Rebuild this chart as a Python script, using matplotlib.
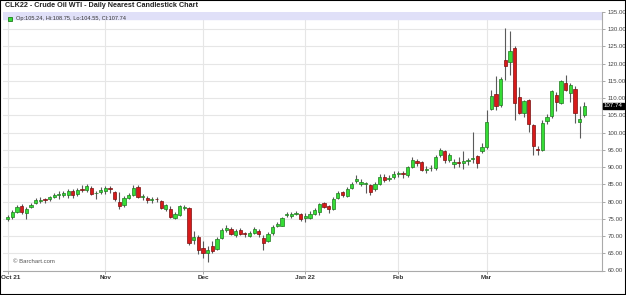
import matplotlib.pyplot as plt
import matplotlib.patches as mpatches
import numpy as np
import pandas as pd

# daily OHLC, CLK22 nearest, 1 Oct 2021 - 30 Mar 2022
holidays = ['2021-11-25', '2021-12-24', '2022-01-17', '2022-02-21']
dates = pd.bdate_range('2021-10-01', '2022-03-30', freq='C', holidays=holidays)

opens = [75.0, 75.6, 77.1, 78.7, 76.6, 78.5, 79.6, 80.3, 80.6, 80.6, 81.3, 81.9, 81.8, 82.0, 83.2, 82.1, 83.6, 83.4, 84.0, 82.4, 82.7,
         83.0, 83.8, 82.8, 79.9, 78.9, 80.9, 81.9, 84.2, 81.3, 81.0, 80.5, 80.7, 80.1, 77.9, 77.9, 75.1, 76.2, 78.2, 78.1, 68.8, 69.6,
         66.4, 65.1, 67.0, 66.3, 69.3, 71.8, 72.0, 70.2, 71.7, 70.8, 70.0, 70.9, 71.4, 69.5, 68.6, 70.8, 72.8, 73.0, 76.0, 75.8, 76.4, 76.4,
         75.3, 75.2, 76.5, 77.0, 79.6, 78.7, 77.9, 81.0, 82.7, 81.7, 83.8, 86.0, 85.1, 85.0, 84.8, 83.7, 85.1, 87.0, 86.6, 87.2,
         88.0, 88.2, 87.6, 90.0, 91.8, 91.5, 89.3, 89.6, 89.7, 93.6, 94.6, 92.0, 90.8, 91.5, 91.2, 91.9, 92.4, 93.1, 94.6,
         95.8, 107.0, 111.2, 108.0, 121.2, 120.6, 124.7, 110.2, 105.7, 109.4, 102.2, 95.3, 95.1, 103.4, 104.8, 110.9, 108.7, 114.4,
         111.5, 112.8, 103.1, 105.24]
highs = [76.2, 77.6, 79.0, 79.3, 78.4, 79.7, 81.1, 81.4, 81.0, 81.6, 82.4, 83.0, 83.0, 83.6, 83.7, 84.0, 84.9, 85.2, 84.6, 83.0, 84.1,
         84.6, 84.4, 83.2, 82.9, 81.5, 82.4, 84.8, 84.9, 82.3, 81.6, 81.3, 81.3, 80.5, 79.3, 78.6, 77.0, 78.9, 78.9, 78.3, 71.5, 70.4,
         68.7, 67.0, 68.5, 69.6, 72.4, 73.1, 72.7, 72.0, 72.4, 71.1, 71.4, 72.6, 71.9, 70.3, 71.3, 73.1, 74.0, 75.6, 76.9, 77.0, 77.2, 76.7,
         76.7, 77.2, 78.2, 79.6, 80.0, 79.0, 81.2, 83.0, 83.0, 84.3, 85.7, 87.6, 86.5, 85.8, 85.0, 85.6, 87.9, 88.1, 87.8, 88.9,
         88.8, 89.0, 90.4, 92.8, 92.4, 91.9, 90.3, 90.7, 93.4, 95.6, 95.0, 94.2, 92.4, 92.9, 94.6, 92.6, 100.2, 93.6, 97.1,
         106.5, 112.3, 116.4, 116.0, 130.5, 129.4, 125.0, 113.3, 109.6, 109.8, 102.6, 96.2, 103.6, 105.4, 112.4, 111.8, 115.4, 116.7,
         114.4, 113.4, 107.7, 108.75]
lows = [74.5, 74.8, 76.8, 76.5, 74.8, 78.0, 79.3, 79.7, 79.6, 80.2, 81.0, 80.8, 81.4, 81.0, 81.0, 81.6, 82.8, 82.9, 82.0, 80.6, 82.2,
        82.3, 82.5, 80.2, 77.9, 78.5, 80.6, 81.6, 80.9, 80.5, 79.5, 79.6, 79.8, 77.8, 77.3, 75.2, 74.9, 75.9, 77.6, 67.4, 67.8, 64.7,
        63.7, 62.4, 65.0, 66.0, 69.1, 71.1, 70.2, 69.8, 70.3, 69.6, 69.6, 70.6, 69.8, 65.9, 68.3, 70.4, 72.5, 72.8, 75.5, 75.3, 76.0, 74.3,
        74.2, 74.9, 76.1, 76.0, 78.0, 76.8, 77.6, 80.8, 81.3, 81.3, 83.6, 85.5, 84.6, 82.4, 82.0, 83.0, 84.9, 85.8, 85.9, 86.6,
        87.0, 86.9, 87.2, 89.6, 90.4, 88.8, 88.4, 88.8, 89.3, 92.8, 91.1, 91.6, 89.6, 89.9, 89.5, 90.6, 91.2, 89.8, 94.0,
        95.3, 106.5, 106.5, 107.5, 115.2, 116.7, 103.6, 105.3, 104.5, 100.2, 93.4, 93.6, 94.8, 102.5, 104.3, 106.4, 108.2, 112.0,
        108.8, 102.8, 98.3, 104.55]
closes = [75.6, 77.0, 78.4, 77.0, 77.9, 79.1, 80.5, 80.5, 80.5, 81.2, 82.0, 82.1, 82.6, 83.0, 82.0, 83.4, 83.5, 84.6, 82.3, 82.6, 83.5,
          84.0, 83.6, 80.6, 78.6, 80.9, 81.9, 84.0, 81.4, 81.5, 80.5, 80.7, 80.6, 78.2, 78.9, 75.6, 76.5, 78.6, 78.3, 67.9, 69.6, 65.9,
          65.0, 65.9, 65.7, 69.1, 71.7, 72.3, 70.6, 71.4, 70.6, 70.6, 70.8, 72.0, 70.5, 68.1, 70.7, 72.6, 73.6, 75.2, 76.3, 76.5, 76.8, 74.9,
          75.8, 76.4, 77.5, 79.2, 78.4, 77.8, 80.7, 82.5, 81.8, 83.7, 85.2, 86.5, 85.6, 85.3, 82.9, 85.2, 87.0, 86.4, 86.9, 88.1,
          88.3, 88.0, 90.0, 92.0, 91.2, 89.2, 89.5, 89.8, 92.8, 95.1, 92.0, 93.4, 91.6, 91.1, 91.8, 92.1, 92.6, 91.2, 95.7,
          103.2, 110.6, 107.7, 115.5, 119.4, 123.7, 108.5, 105.8, 109.2, 102.6, 96.0, 95.0, 102.8, 104.6, 112.0, 109.0, 114.9, 112.3,
          113.8, 105.7, 104.1, 107.74]

y_ticks = list(range(60, 140, 5))
month_labels = ['Oct 21', 'Nov', 'Dec', 'Jan 22', 'Feb', 'Mar']

plt.rcParams['font.family'] = ['Liberation Sans', 'DejaVu Sans']
fig = plt.figure(figsize=(6.26, 2.95), dpi=100)
ax = fig.add_axes([3/626, 24.5/295, 599/626, 258.5/295])

o = np.array(opens)
h = np.array(highs)
l = np.array(lows)
c = np.array(closes)
x = np.arange(len(dates))
up = c >= o
face = np.where(up, '#36dc36', '#d71a1a')
edge = np.where(up, '#1f7a1f', '#7a1010')

ax.vlines(x, l, h, color='#5a5a5a', lw=0.8, zorder=2)
body = np.maximum(np.abs(c - o), 0.18)
ax.bar(x, body, bottom=np.minimum(o, c), width=0.7, color=face,
       edgecolor=edge, linewidth=0.5, zorder=3)

# month starts; the first label sits flush with the left edge
month_pos = [i for i in range(len(dates)) if i == 0 or dates[i].month != dates[i-1].month]
ax.set_xticks(month_pos)
ax.set_xticklabels([''] + month_labels[1:], fontsize=4.6, fontweight='bold', color='#333333')
ax.annotate(month_labels[0], xy=(month_pos[0], 0), xycoords=('data', 'axes fraction'),
            xytext=(-4.6, -3.5), textcoords='offset points', ha='left', va='top',
            fontsize=4.6, fontweight='bold', color='#333333')
ax.set_yticks(y_ticks)
ax.set_yticklabels(['%.2f' % v for v in y_ticks], fontsize=4.4, color='#444444')
ax.yaxis.tick_right()
ax.tick_params(axis='y', length=2.5, width=0.6, color='#999999', pad=1.5)
ax.tick_params(axis='x', length=2, width=0.6, color='#999999', pad=1.5)
ax.set_xlim(-1.01, 127.8)
ax.set_ylim(60, 135)
ax.grid(True, color='#e6e6e6', lw=0.8, zorder=0)
ax.set_axisbelow(True)
for s in ('left', 'top'):
    ax.spines[s].set_visible(False)
for s in ('right', 'bottom'):
    ax.spines[s].set_color('#aaaaaa')
    ax.spines[s].set_linewidth(0.8)

# legend band
ax.axhspan(133.0, 135, color='#e0e0f8', zorder=1)
ax.plot([0.012], [0.973], marker='s', ms=3.2, mfc='#36dc36', mec='#1f7a1f', mew=0.6,
        transform=ax.transAxes, zorder=4, clip_on=False)
ax.text(0.021, 0.973, 'Op:%.2f, Hi:%.2f, Lo:%.2f, Cl:%.2f' % (opens[-1], highs[-1], lows[-1], closes[-1]),
        transform=ax.transAxes, fontsize=4.1, va='center', ha='left', color='#333333', zorder=4)

# last price box
ax.text(1.003, closes[-1], '%.2f' % closes[-1], transform=ax.get_yaxis_transform(),
        fontsize=4.4, color='white', va='center', ha='left',
        bbox=dict(boxstyle='square,pad=0.15', fc='black', ec='black'), zorder=5)

ax.text(0.017, 0.025, '\u00a9 Barchart.com', transform=ax.transAxes, fontsize=4.3,
        color='#555555', va='bottom', ha='left')

fig.text(5/626, 1 - 2/295, 'CLK22 - Crude Oil WTI - Daily Nearest Candlestick Chart',
         fontsize=5.2, fontweight='bold', va='top', ha='left', color='#222222')

fig.patches.append(mpatches.Rectangle((0, 0), 1, 1, transform=fig.transFigure, fill=False,
                                      edgecolor='black', lw=1.5))

fig.savefig('out.png', dpi=100)
